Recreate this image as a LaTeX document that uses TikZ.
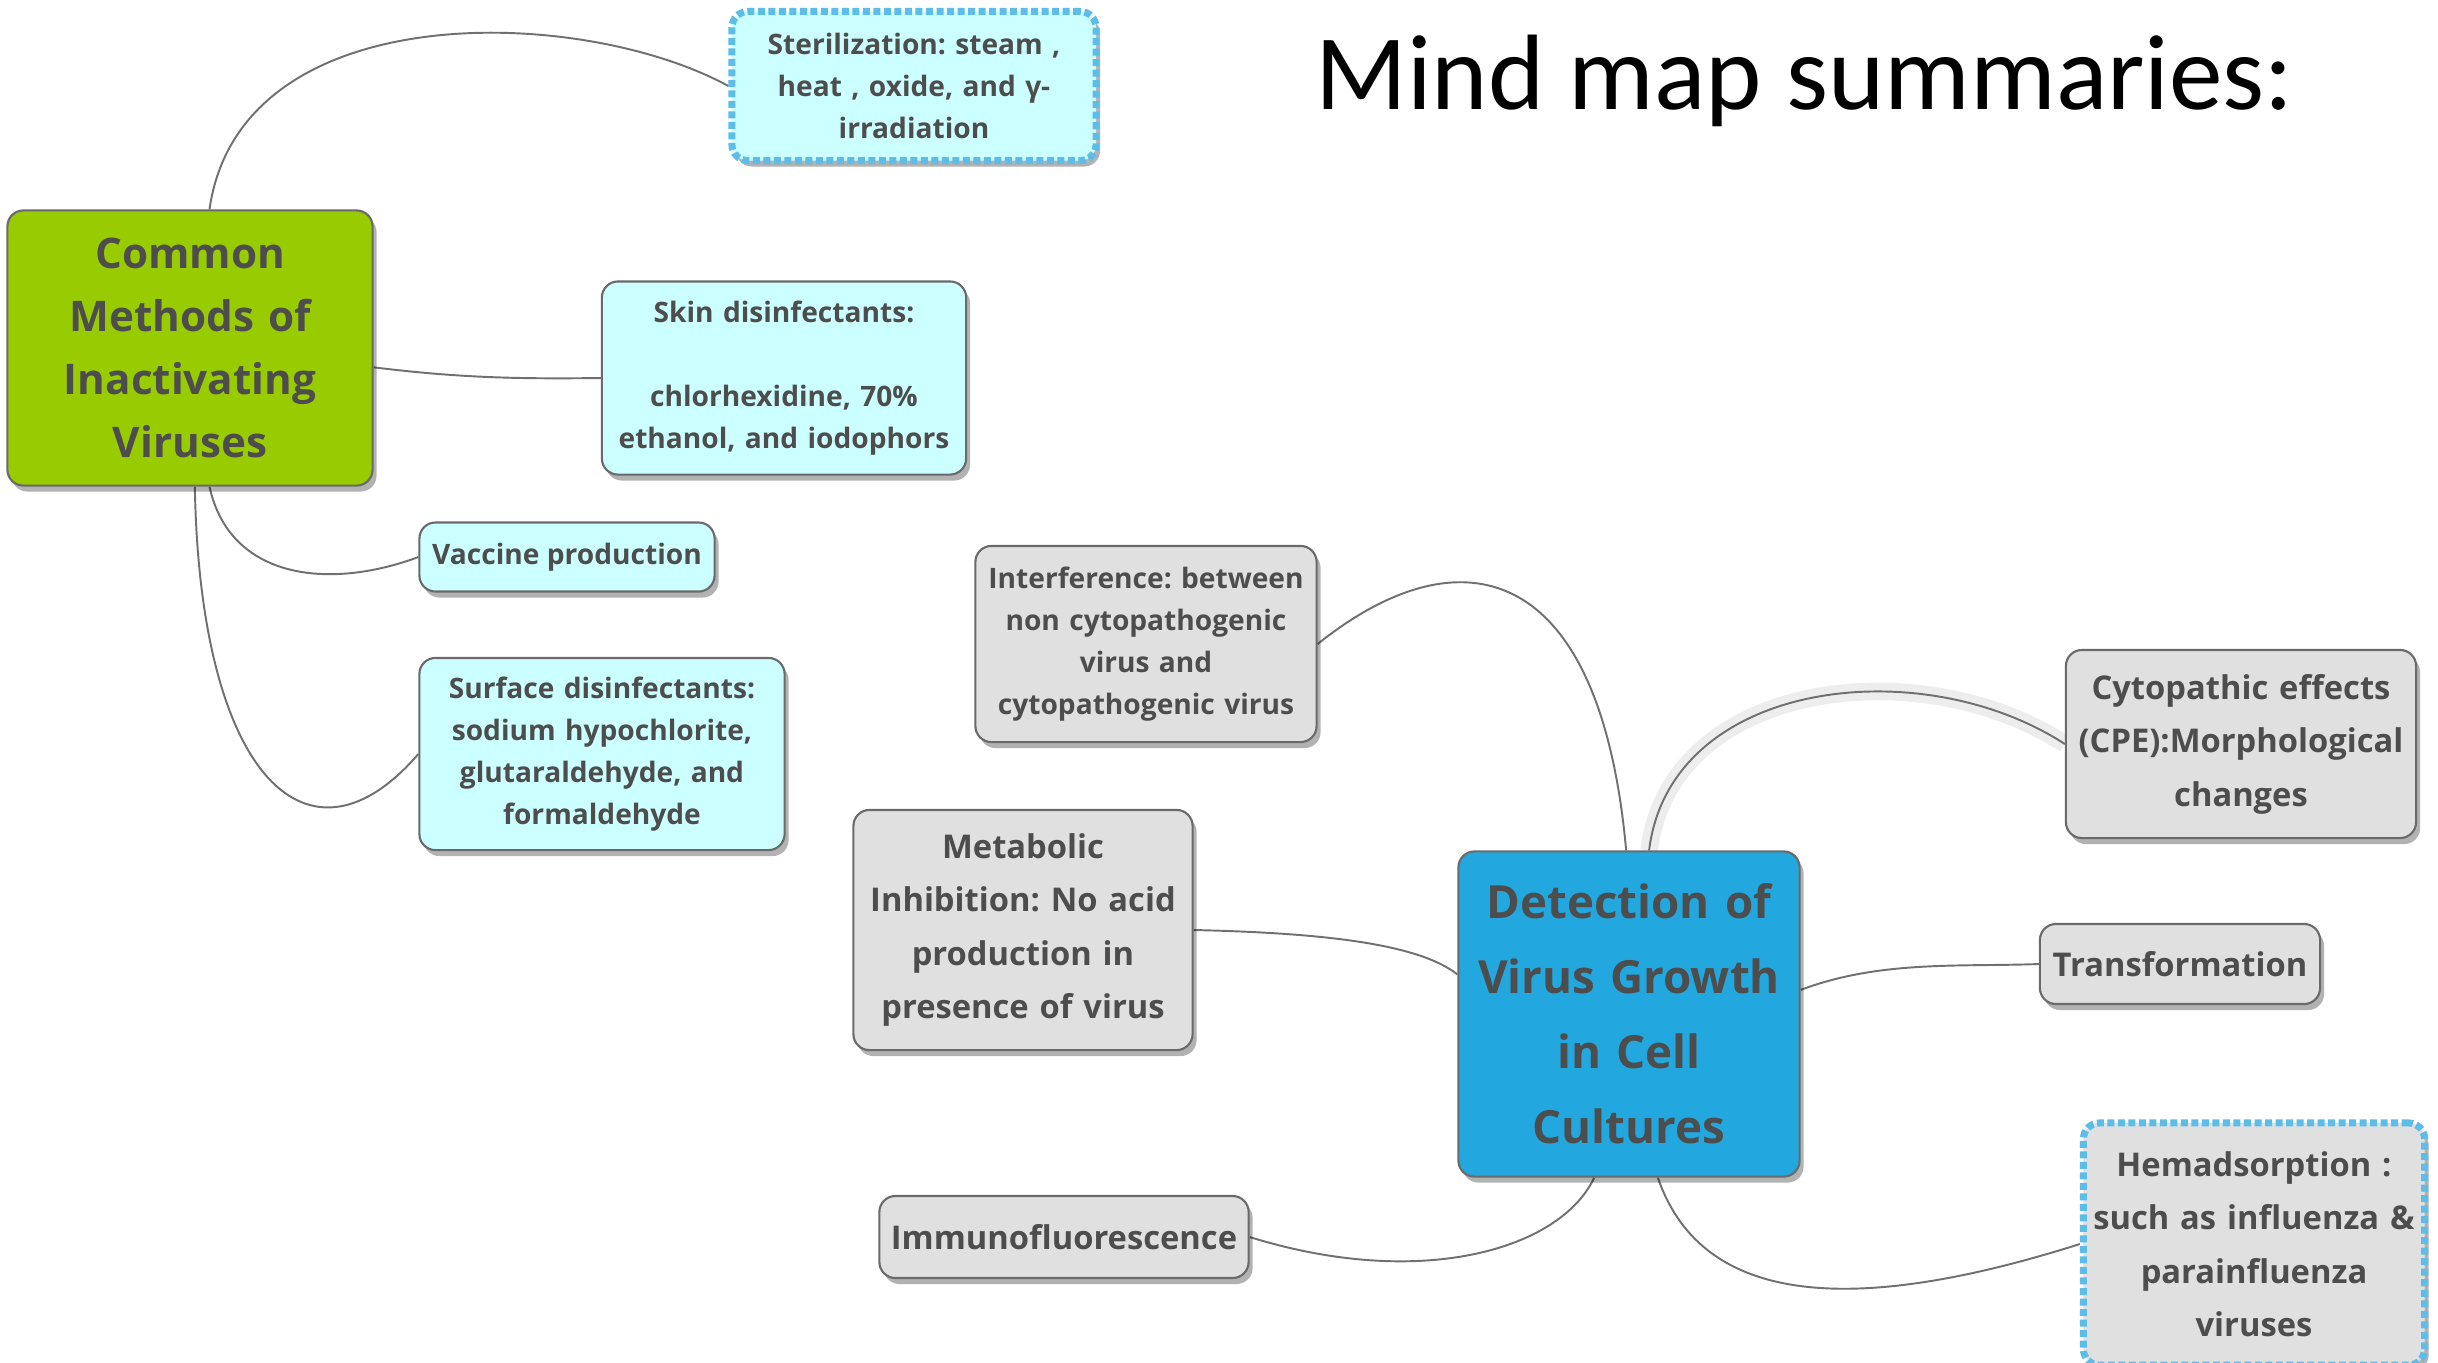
\documentclass[tikz,border=0pt]{standalone}
\usepackage{fontspec}
\setmainfont{Open Sans}
\newfontfamily\titlefont{Carlito}
\usetikzlibrary{shadows,backgrounds}
\frenchspacing
\definecolor{txt}{HTML}{4D4D4D}
\definecolor{edgec}{HTML}{707070}
\definecolor{greenfill}{HTML}{99CC00}
\definecolor{cyanfill}{HTML}{CCFFFF}
\definecolor{grayfill}{HTML}{E0E0E0}
\definecolor{bluefill}{HTML}{22A8DF}
\definecolor{dashblue}{HTML}{5BBDE8}
\definecolor{bordc}{HTML}{6A6A6A}
\definecolor{haloc}{HTML}{EDEDED}
\tikzset{
  box/.style={draw=bordc, line width=0.6pt, rounded corners=0.16cm, align=center,
    inner sep=0pt, text=txt,
    drop shadow={shadow xshift=0.04cm, shadow yshift=-0.06cm, opacity=0.3, fill=black}},
  dashbox/.style={box, draw=dashblue, dash pattern=on 0.07cm off 0.035cm, line width=2pt},
  smallL/.style={font=\bfseries\fontsize{8}{12}\selectfont},
  smallR/.style={font=\bfseries\fontsize{9.3}{15.2}\selectfont},
  link/.style={draw=edgec, line width=0.55pt},
  halo/.style={draw=haloc, line width=5pt}
}
\begin{document}
\begin{tikzpicture}[x=0.01cm,y=-0.01cm]
\useasboundingbox (0,0) rectangle (2438,1362);

% Left cluster
\node[box, fill=greenfill, minimum width=3.65cm, minimum height=2.75cm, text width=3.4cm,
  font=\bfseries\fontsize{12}{17.9}\selectfont] (cm) at (190,348) {Common\\Methods of\\Inactivating\\Viruses};
\node[dashbox, fill=cyanfill, smallL, minimum width=3.64cm, minimum height=1.49cm, text width=3.4cm] (st) at (914,86)
  {Sterilization: steam ,\\heat , oxide, and γ-\\irradiation};
\node[box, fill=cyanfill, smallL, minimum width=3.64cm, minimum height=1.93cm, text width=3.4cm] (sk) at (784,378)
  {Skin disinfectants:\\[12pt]chlorhexidine, 70\%\\ethanol, and iodophors};
\node[box, fill=cyanfill, smallL, minimum width=2.95cm, minimum height=0.69cm] (va) at (567,557)
  {Vaccine production};
\node[box, fill=cyanfill, smallL, minimum width=3.65cm, minimum height=1.92cm, text width=3.4cm] (su) at (602,754)
  {Surface disinfectants:\\sodium hypochlorite,\\glutaraldehyde, and\\formaldehyde};

% Right cluster
\node[box, fill=bluefill, minimum width=3.41cm, minimum height=3.25cm, text width=3.3cm,
  font=\bfseries\fontsize{13}{21.3}\selectfont] (det) at (1629,1014) {Detection of\\Virus Growth\\in Cell\\Cultures};
\node[box, fill=grayfill, smallL, minimum width=3.41cm, minimum height=1.96cm, text width=3.3cm] (in) at (1146,644)
  {Interference: between\\non cytopathogenic\\virus and\\cytopathogenic virus};
\node[box, fill=grayfill, smallR, minimum width=3.39cm, minimum height=2.40cm, text width=3.3cm] (me) at (1023,930)
  {Metabolic\\Inhibition: No acid\\production in\\presence of virus};
\node[box, fill=grayfill, smallR, minimum width=3.50cm, minimum height=1.88cm, text width=3.45cm] (cy) at (2241,744)
  {Cytopathic effects\\(CPE):Morphological\\changes};
\node[box, fill=grayfill, smallR, minimum width=2.80cm, minimum height=0.80cm] (tr) at (2180,964)
  {Transformation};
\node[dashbox, fill=grayfill, smallR, minimum width=3.41cm, minimum height=2.42cm, text width=3.35cm] (he) at (2254,1244)
  {Hemadsorption :\\such as influenza \&\\parainfluenza\\viruses};
\node[box, fill=grayfill, smallR, minimum width=3.69cm, minimum height=0.82cm] (im) at (1064,1237)
  {Immunofluorescence};

% Title
\node[anchor=base west, inner sep=0pt, text=black, font=\titlefont\fontsize{30.5}{30.5}\selectfont] (title) at (1315,109)
  {Mind map summaries:};

\begin{scope}[on background layer]
\fill[white] (0,0) rectangle (2438,1362);
\draw[link] (cm.82) .. controls (240,-5) and (580,5) .. (st.west);
\draw[link] (cm.-6) .. controls (460,378) and (520,379) .. (sk.west);
\draw[link] (cm.-82) .. controls (230,580) and (330,590) .. (va.west);
\draw[link] (cm.-88) .. controls (200,780) and (310,880) .. (su.west);
\draw[link] (det.91) .. controls (1600,560) and (1460,530) .. (in.east);
\draw[halo] (det.83) .. controls (1670,680) and (1920,650) .. (cy.west);
\draw[link] (det.83) .. controls (1670,680) and (1920,650) .. (cy.west);
\draw[link] (det.8) .. controls (1880,960) and (1960,967) .. (tr.west);
\draw[link] (det.167) .. controls (1420,945) and (1330,933) .. (me.east);
\draw[link] (det.-102) .. controls (1560,1250) and (1420,1290) .. (im.east);
\draw[link] (det.-80) .. controls (1700,1300) and (1840,1320) .. (he.west);
\end{scope}
\end{tikzpicture}
\end{document}
